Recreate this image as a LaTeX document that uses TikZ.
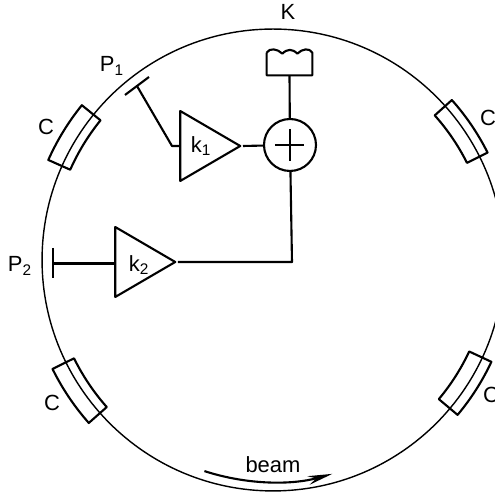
\documentclass[tikz,border=0pt]{standalone}
\usepackage{fontspec}
\setmainfont{Liberation Sans}
\usetikzlibrary{shapes.geometric,arrows.meta}
\begin{document}
\begin{tikzpicture}[x=0.02cm,y=0.02cm,every node/.style={font=\fontsize{12.5}{14}\selectfont},
  wire/.style={line width=1.2pt,line join=round},
  amp/.style={draw,wire,isosceles triangle,isosceles triangle stretches,shape border rotate=0,
    minimum width=1.4cm,minimum height=1.2cm,inner sep=0pt,anchor=apex},
  tag/.style={inner sep=0pt}]
  \path[use as bounding box,clip] (0,0) rectangle (495,493);
  \node[draw,circle,line width=0.8pt,minimum size=9.24cm,inner sep=0pt] (ring) at (273,233) {};
  % cavities on the ring
  \foreach \a/\b/\ri/\ro in {141/156/4.44/4.92,26.6/41.8/4.34/4.80,-40/-25/4.33/4.82,206.3/221.5/4.44/4.92}
    \draw[wire] ([shift={(\a:\ri cm)}]ring.center) -- ([shift={(\a:\ro cm)}]ring.center)
      arc[start angle=\a,end angle=\b,radius=\ro cm] -- ([shift={(\b:\ri cm)}]ring.center)
      arc[start angle=\b,end angle=\a,radius=\ri cm] -- cycle;
  \node[tag] (cavA) at (46,366) {C};
  \node[tag] (cavB) at (488,375) {C};
  \node[tag] (cavC) at (491,98) {C};
  \node[tag] (cavD) at (52,90) {C};
  % amplifiers and adder
  \node[amp] (ampA) at (243,347) {};
  \node[amp] (ampB) at (178,231) {};
  \node[tag] (ampAtext) at (201,347) {k\textsubscript{1}};
  \node[tag] (ampBtext) at (139,228) {k\textsubscript{2}};
  \node[draw,wire,circle,minimum size=1.04cm,inner sep=0pt] (adder) at (290,348) {};
  \draw[wire] (adder.center) ++(-15,0) -- ++(29,0);
  \draw[wire] (adder.center) ++(0,16) -- ++(0,-32);
  % kicker
  \node[minimum width=0.9cm,minimum height=0.44cm,inner sep=0pt] (kicker) at (289.5,429) {};
  \draw[wire] (kicker.north west) -- (kicker.south west) -- (kicker.south east) -- (kicker.north east)
    .. controls +(-3,5) and +(5,5) .. ++(-15,-1)
    .. controls +(-5,5) and +(5,5) .. ++(-15,0)
    .. controls +(-5,5) and +(3,5) .. (kicker.north west);
  \node[tag] (kickertext) at (288,481) {K};
  % pick-ups
  \coordinate (pickA1) at (125,398);
  \coordinate (pickA2) at (149,416);
  \coordinate (pickAm) at (137,407);
  \coordinate (pickAk) at (172,347);
  \coordinate (pickB1) at (53,245);
  \coordinate (pickB2) at (53,215);
  \coordinate (pickBm) at (53,229.5);
  \coordinate (bend) at (292,231);
  \draw[wire] (pickA1) -- (pickA2);
  \draw[wire] (pickB1) -- (pickB2);
  \draw[wire] (pickAm) -- (pickAk) -- (ampA.lower side);
  \draw[wire] (pickBm) -- (pickBm -| ampB.lower side);
  \draw[wire] (ampA.apex) -- (adder);
  \draw[wire] (kicker.south) -- (adder);
  \draw[wire] (adder) -- (bend) -- (ampB.apex);
  \node[tag] (pickAtext) at (112,427) {P\textsubscript{1}};
  \node[tag] (pickBtext) at (20,227) {P\textsubscript{2}};
  % beam
  \node[tag] (beamtext) at (273,28) {beam};
  \draw[-{Stealth[length=14pt,width=5pt]},line width=1.2pt]
    ([shift={(-108:4.44cm)}]ring.center) arc[start angle=-108,end angle=-74.5,radius=4.44cm];
\end{tikzpicture}
\end{document}
